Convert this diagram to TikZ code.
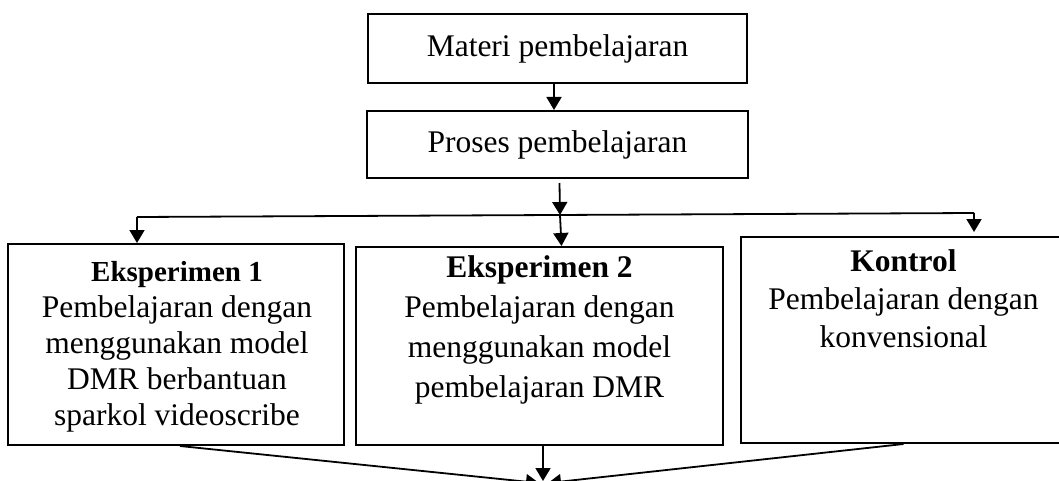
\documentclass[tikz,border=0pt]{standalone}
\usepackage{fontspec}
\setmainfont{Liberation Serif}
\usetikzlibrary{arrows.meta,calc}
\begin{document}
\begin{tikzpicture}[x=1pt,y=-1pt,
  box/.style={draw,line width=2pt,inner sep=0pt},
  conn/.style={line width=1.8pt},
  arr/.style={line width=1.8pt,-{Triangle[length=13pt,width=15pt]}},
  txt/.style={align=center,inner sep=0pt,anchor=north},
  mainfont/.style={font=\fontsize{31.5}{36}\selectfont}
]
\useasboundingbox (0,0) rectangle (1059,481);

% top boxes
\node[box,mainfont,minimum width=379pt,minimum height=69pt] (materi) at (557.5,48.5) {Materi pembelajaran};
\node[box,mainfont,minimum width=381pt,minimum height=67pt] (proses) at (557.5,144.5) {Proses pembelajaran};

% lower boxes
\node[box,minimum width=336pt,minimum height=201pt] (eks1) at (176,344.5) {};
\node[box,minimum width=367pt,minimum height=198pt] (eks2) at (539.5,346) {};
\node[box,minimum width=325pt,minimum height=206pt] (kontrol) at (903.5,340) {};

% texts
\node[txt,font=\fontsize{31.5}{36}\selectfont] (eks1t) at (177,256)
  {\rule{0pt}{25pt}{\fontsize{29}{36}\selectfont\bfseries Eksperimen 1}\\Pembelajaran dengan\\menggunakan model\\DMR berbantuan\\sparkol videoscribe};
\node[txt,font=\fontsize{31.5}{40}\selectfont] (eks2t) at (539.5,252)
  {\rule{0pt}{25pt}\textbf{Eksperimen 2}\\Pembelajaran dengan\\menggunakan model\\pembelajaran DMR};
\node[txt,font=\fontsize{31.5}{38}\selectfont] (kontrolt) at (903.5,246)
  {\rule{0pt}{25pt}\textbf{Kontrol}\\Pembelajaran dengan\\konvensional};

% coordinates for the branch line
\coordinate (bL) at (137,217);
\coordinate (bR) at (974,213);
\coordinate (bC) at (560,215);
\coordinate (tipM) at (543,481);
\coordinate (tipL) at (539,483);
\coordinate (tipR) at (548,483);

% connectors
\draw[arr] ([xshift=-3.5pt]materi.south) -- ([xshift=-3.5pt]proses.north);
\draw[arr] ($(proses.south)+(2,4)$) -- (bC);
\draw[conn] (bL) -- (bR);
\draw[arr] (bL) -- (bL |- eks1.north);
\draw[arr] (bC) -- ($(eks2.north)+(22,0)$);
\draw[arr] (bR) -- ($(bR |- kontrol.north)+(0,-4)$);

\draw[arr] ([xshift=4pt]eks1.south) -- (tipL);
\draw[arr] ([xshift=3.5pt]eks2.south) -- (tipM);
\draw[arr] (kontrol.south) -- (tipR);
\end{tikzpicture}
\end{document}
